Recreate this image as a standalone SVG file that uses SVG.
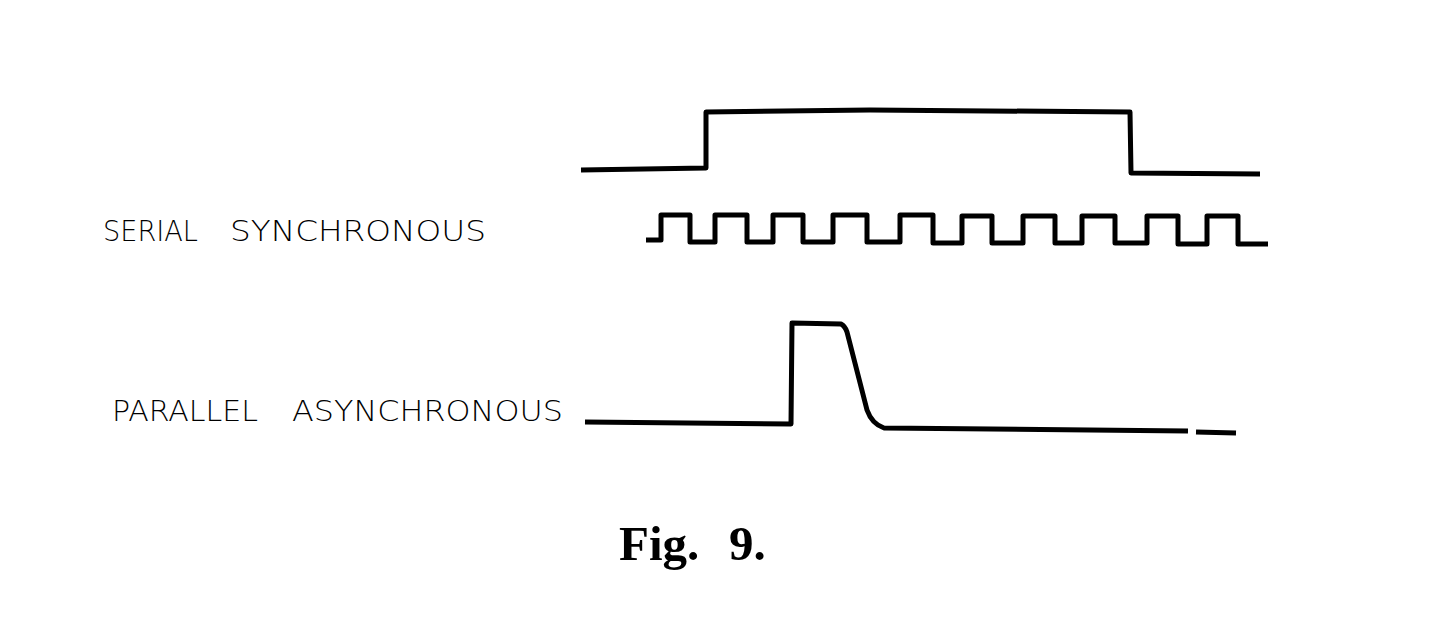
<svg xmlns="http://www.w3.org/2000/svg" width="1432" height="626" viewBox="0 0 1432 626">
  <style>
    .sig { fill: none; stroke: #000; stroke-width: 5; stroke-linejoin: round; stroke-linecap: butt; }
    .lbl { font-family: "DejaVu Sans", "Liberation Sans", sans-serif; font-size: 28px; fill: #000; font-weight: 300; }
    .cap { font-family: "Liberation Serif", "Times New Roman", serif; font-size: 49px; font-weight: bold; fill: #000; }
  </style>
  <rect width="1432" height="626" fill="#fff"/>
  <g id="labels">
    <text class="lbl" y="241"><tspan x="103" textLength="95" lengthAdjust="spacingAndGlyphs">SERIAL</tspan><tspan x="230" textLength="256" lengthAdjust="spacingAndGlyphs">SYNCHRONOUS</tspan></text>
    <text class="lbl" y="421"><tspan x="112" textLength="146" lengthAdjust="spacingAndGlyphs">PARALLEL</tspan><tspan x="292" textLength="271" lengthAdjust="spacingAndGlyphs">ASYNCHRONOUS</tspan></text>
  </g>
  <g id="signals">
    <path id="serial-data" class="sig" d="M581 170 L706 168 L706 112 L870 110 L1130 112 L1131 173 L1260 174"/>
    <path id="serial-clock" class="sig" d="M646 240 L661 240 L661 215 L690 215 L690 242 L715 242 L715 215 L747 215 L747 242 L773 242 L773 215 L803 215 L803 242 L833 242 L833 215 L867 215 L867 242 L900 242 L900 215 L933 215 L933 243 L962 243 L962 216 L992 216 L992 243 L1023 243 L1023 216 L1055 216 L1055 243 L1082 243 L1082 216 L1115 216 L1115 243 L1147 243 L1147 216 L1178 216 L1178 244 L1207 244 L1207 216 L1238 216 L1238 244 L1268 244"/>
    <path id="parallel-pulse" class="sig" d="M585 422 L791 424 L792 323 L841 324 Q845 326 847 332 L867 410 Q872 424 884 428 L1188 431"/>
    <path id="parallel-tail" class="sig" d="M1196 432 L1236 433"/>
  </g>
  <g id="caption">
    <text class="cap" x="619" y="560">Fig.</text>
    <text class="cap" x="729" y="560">9.</text>
  </g>
</svg>
